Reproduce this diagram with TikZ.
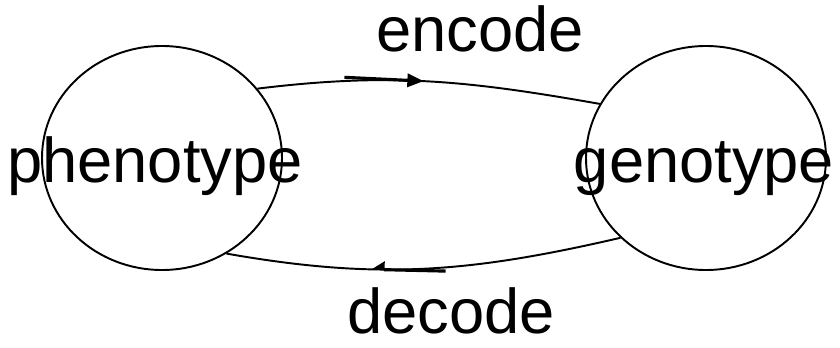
\documentclass[tikz,border=0pt]{standalone}
\usepackage{fontspec}
\setmainfont{Liberation Sans}
\usetikzlibrary{
    shapes.geometric,
    decorations.markings
}

\begin{document}
\begin{tikzpicture}[
  line width=1.1pt,
  state/.style = {ellipse, draw, inner sep=0pt,
                  minimum width=4.8cm, minimum height=4.48cm},
  word/.style  = {anchor=base, inner sep=0pt,
                  font=\fontsize{36}{40}\selectfont},
  fwd/.style   = {postaction={decorate}, decoration={markings,
                  mark=at position #1 with {
                    \draw[line width=1.8pt] (-1.56cm,0) -- (-0.28cm,0);
                    \fill (0.02cm,0) -- (-0.3cm,0.14cm) -- (-0.3cm,-0.14cm) -- cycle;}}},
  bwd/.style   = {postaction={decorate}, decoration={markings,
                  mark=at position #1 with {
                    \draw[line width=1.8pt] (-1.46cm,0) -- (-0.22cm,0);
                    \fill (0.02cm,0) -- (-0.24cm,-0.17cm) -- (-0.24cm,0) -- cycle;}}}
]
\useasboundingbox (0,0) rectangle (16.8,-6.96);

% Nodes
\node[state] (pheno) at (3.24,-3.16) {};
\node[state] (geno)  at (14.12,-3.16) {};

\node[word] (phenoText) at (3.10,-3.64)  {phenotype};
\node[word] (genoText)  at (14.08,-3.64) {genotype};
\node[word] (encText)   at (9.60,-1.04)  {encode};
\node[word] (decText)   at (9.02,-6.66)  {decode};

% Arcs between the two
\draw[fwd=0.48] (pheno.36) to[out=7, in=170] (geno.153);
\draw[bwd=0.63] (geno.223) to[out=193, in=-10] (pheno.304);

\end{tikzpicture}
\end{document}
